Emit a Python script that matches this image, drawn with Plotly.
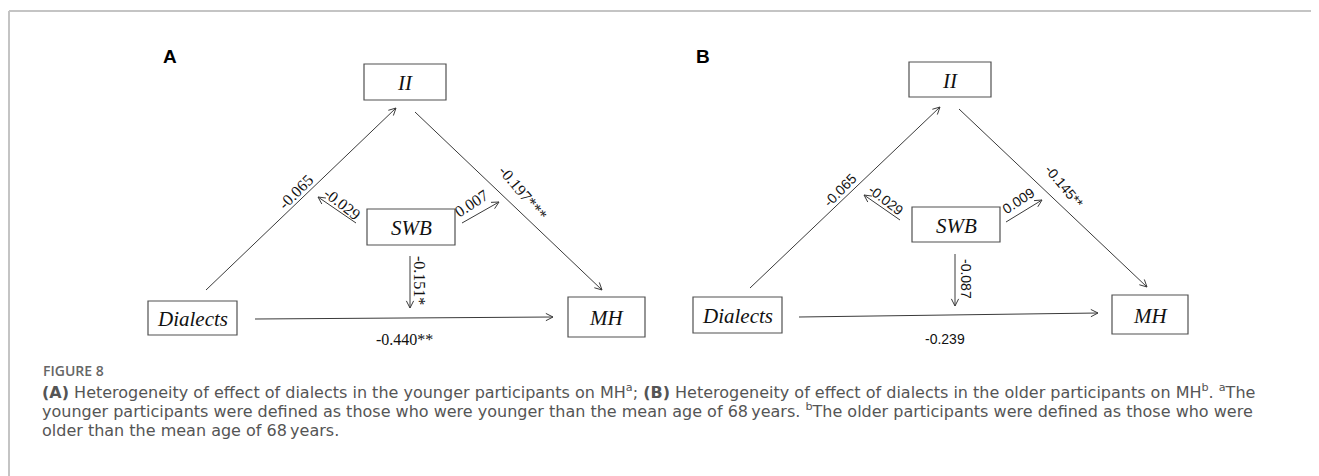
import math
import plotly.graph_objects as go

W, H = 1319, 476
OFF = 8  # default page body margin, so that data coordinates equal page pixels

# ---------------- data ----------------
panels = ["A", "B"]
node_names = ["II", "SWB", "Dialects", "MH"]
path_names = ["Dialects→II", "II→MH", "SWB→II", "SWB→MH", "SWB→Dialects-MH", "Dialects→MH"]
coef_A = ["-0.065", "-0.197***", "-0.029", "0.007", "-0.151*", "-0.440**"]
coef_B = ["-0.065", "-0.145**", "-0.029", "0.009", "-0.087", "-0.239"]
figure_label = "FIGURE 8"
caption_lines = [
    "<b>(A)</b> Heterogeneity of effect of dialects in the younger participants on MH<sup>a</sup>; "
    "<b>(B)</b> Heterogeneity of effect of dialects in the older participants on MH<sup>b</sup>. <sup>a</sup>The",
    "younger participants were defined as those who were younger than the mean age of 68\u2009years. "
    "<sup>b</sup>The older participants were defined as those who were",
    "older than the mean age of 68\u2009years.",
]

# ---------------- layout (pixel geometry) ----------------
layout_geo = {
    "A": {
        "label": (170, 56),
        "boxes": {"II": (364, 64, 446, 100), "SWB": (367, 209, 455, 245),
                  "Dialects": (148, 301, 237, 335), "MH": (568, 297, 645, 337)},
        "arrows": [((206, 290), (396, 108)), ((415, 112), (602, 290)),
                   ((356, 223), (318, 197)), ((462, 223), (499, 202)),
                   ((410, 256), (410, 308)), ((255, 319), (553, 317))],
        "labels": [((295, 192), -45), ((523, 192), 50), ((342, 203), 38),
                   ((471, 203), -33), ((420, 280), 90), ((404, 339), 0)],
        "font": ("Liberation Serif", 16),
    },
    "B": {
        "label": (703, 56),
        "boxes": {"II": (909, 62, 991, 97), "SWB": (912, 207, 1000, 242),
                  "Dialects": (693, 297, 782, 333), "MH": (1112, 295, 1188, 334)},
        "arrows": [((750, 288), (940, 107)), ((959, 109), (1147, 287)),
                   ((900, 220), (864, 195)), ((1006, 222), (1042, 200)),
                   ((955, 254), (955, 306)), ((799, 317), (1098, 313))],
        "labels": [((840, 190), -45), ((1064, 186), 50), ((886, 200), 38),
                   ((1018, 201), -33), ((966, 279), 90), ((945, 339), 0)],
        "font": ("Liberation Sans", 14),
    },
}
coefs = {"A": coef_A, "B": coef_B}

fig = go.Figure()
shapes, annotations = [], []

# outer frame (top + left edges)
frame_col = "#c4c4c4"
shapes.append(dict(type="line", x0=9, y0=11, x1=W + 20, y1=11, line=dict(color=frame_col, width=2), layer="above"))
shapes.append(dict(type="line", x0=9, y0=11, x1=9, y1=H + 20, line=dict(color=frame_col, width=2), layer="above"))

ax_x, ax_y = [], []
for p in panels:
    g = layout_geo[p]
    annotations.append(dict(x=g["label"][0], y=g["label"][1], text=f"<b>{p}</b>", showarrow=False,
                            font=dict(family="Liberation Sans", size=19, color="#000"),
                            xanchor="center", yanchor="middle"))
    for name in node_names:
        x0, y0, x1, y1 = g["boxes"][name]
        shapes.append(dict(type="rect", x0=x0, y0=y0, x1=x1, y1=y1,
                           line=dict(color="#505050", width=1.2), fillcolor="rgba(0,0,0,0)"))
        annotations.append(dict(x=(x0 + x1) / 2, y=(y0 + y1) / 2 + 1, text=f"<i>{name}</i>", showarrow=False,
                                font=dict(family="Liberation Serif", size=21, color="#111"),
                                xanchor="center", yanchor="middle"))
    for (s, e) in g["arrows"]:
        ax_x += [s[0], e[0], None]
        ax_y += [s[1], e[1], None]
        dx, dy = s[0] - e[0], s[1] - e[1]
        L = math.hypot(dx, dy)
        ux, uy = dx / L, dy / L
        for sgn in (1, -1):
            a = math.radians(27) * sgn
            rx = ux * math.cos(a) - uy * math.sin(a)
            ry = ux * math.sin(a) + uy * math.cos(a)
            ax_x += [e[0], e[0] + 8 * rx, None]
            ax_y += [e[1], e[1] + 8 * ry, None]
    fam, size = g["font"]
    for text, ((lx, ly), ang) in zip(coefs[p], g["labels"]):
        annotations.append(dict(x=lx, y=ly, text=text, showarrow=False, textangle=ang,
                                font=dict(family=fam, size=size, color="#111"),
                                xanchor="center", yanchor="middle"))

fig.add_trace(go.Scatter(x=ax_x, y=ax_y, mode="lines", line=dict(color="#3a3a3a", width=1),
                         hoverinfo="skip", showlegend=False))

# caption
annotations.append(dict(x=41, y=370, text=figure_label, showarrow=False, xanchor="left", yanchor="middle",
                        font=dict(family="Open Sans", size=14, color="#666666", weight=600)))
for i, line in enumerate(caption_lines):
    annotations.append(dict(x=41, y=391 + i * 19.5, text=line, showarrow=False, borderpad=0,
                            xanchor="left", yanchor="middle",
                            font=dict(family="DejaVu Sans", size=16, color="#555555")))

fig.update_layout(
    width=W, height=H, margin=dict(l=0, r=0, t=0, b=0),
    paper_bgcolor="white", plot_bgcolor="white",
    xaxis=dict(range=[OFF, W + OFF], visible=False, fixedrange=True),
    yaxis=dict(range=[H + OFF, OFF], visible=False, fixedrange=True),
    shapes=shapes, annotations=annotations,
)
fig.write_html("out.html")
